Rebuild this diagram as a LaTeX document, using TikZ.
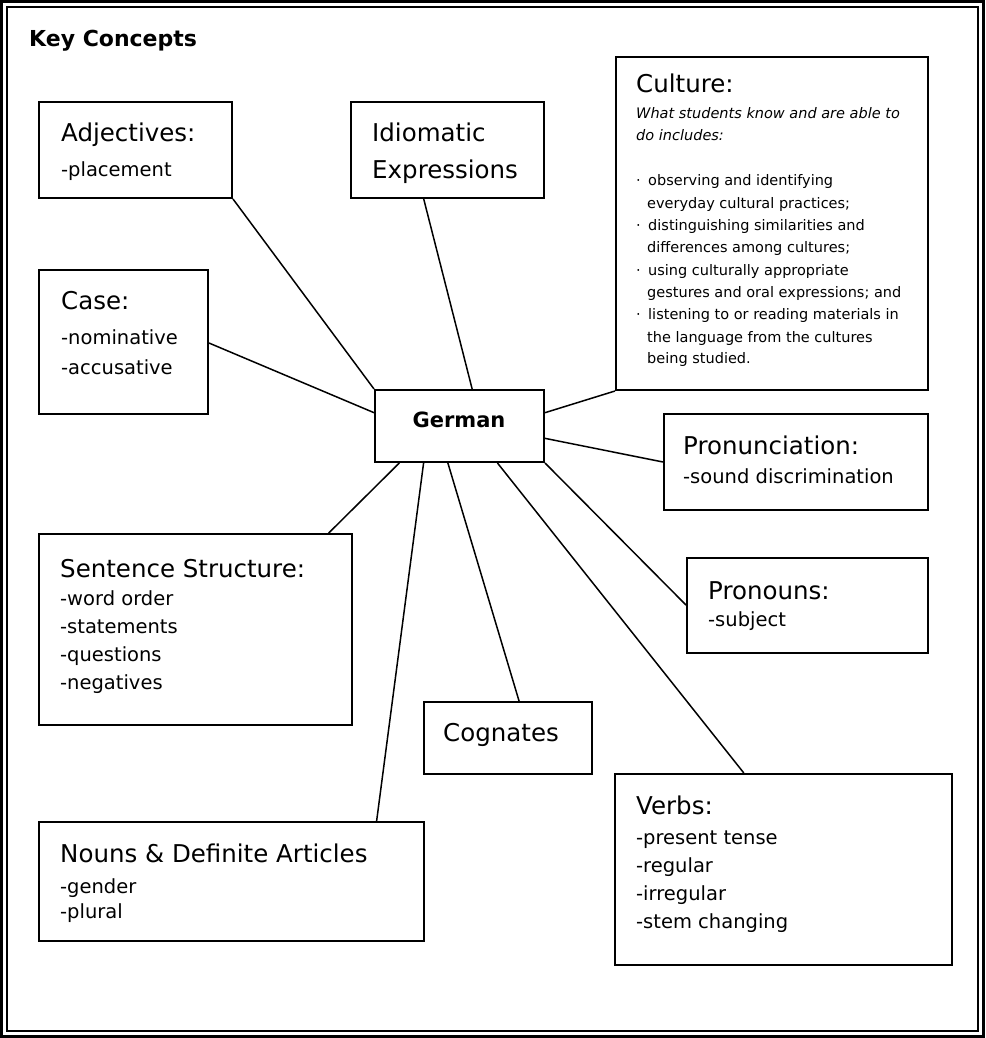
\documentclass[tikz,border=0pt]{standalone}
\usepackage{fontspec}
\setmainfont{DejaVu Sans}
\usetikzlibrary{calc}
\begin{document}
\begin{tikzpicture}[x=1pt,y=-1pt,
  box/.style={draw=black, line width=2pt, fill=white, inner sep=0pt, anchor=north west},
  conn/.style={draw=black, line width=1.5pt},
  ttl/.style={anchor=base west, inner sep=0pt, font=\fontsize{24.5}{29}\selectfont},
  itm/.style={anchor=base west, inner sep=0pt, font=\fontsize{19.5}{23}\selectfont},
  sml/.style={anchor=base west, inner sep=0pt, font=\fontsize{14.5}{17}\selectfont},
  smi/.style={sml, font=\fontsize{14.5}{17}\selectfont\itshape},
  bld/.style={inner sep=0pt, font=\fontsize{21}{25}\selectfont\bfseries},
]
\useasboundingbox (0,0) rectangle (985,1038);
% double frame
\draw[line width=3pt] (1.5,1.5) rectangle (983.5,1036.5);
\draw[line width=1.3pt] (7,7) rectangle (978,1031);

\node[bld, anchor=base west, font=\fontsize{22}{26}\selectfont\bfseries] (kc) at (29,47) {Key Concepts};

% boxes
\node[box, minimum width=193pt, minimum height=96pt] (adj) at (38,101) {};
\node[box, minimum width=193pt, minimum height=96pt] (idi) at (350,101) {};
\node[box, minimum width=312pt, minimum height=333pt] (cul) at (615,56) {};
\node[box, minimum width=169pt, minimum height=144pt] (cas) at (38,269) {};
\node[box, minimum width=169pt, minimum height=72pt] (ger) at (374,389) {};
\node[box, minimum width=264pt, minimum height=96pt] (pnc) at (663,413) {};
\node[box, minimum width=241pt, minimum height=95pt] (prn) at (686,557) {};
\node[box, minimum width=313pt, minimum height=191pt] (sen) at (38,533) {};
\node[box, minimum width=168pt, minimum height=72pt] (cog) at (423,701) {};
\node[box, minimum width=337pt, minimum height=191pt] (vrb) at (614,773) {};
\node[box, minimum width=385pt, minimum height=119pt] (nou) at (38,821) {};

% connectors
\draw[conn] (adj.south east) -- (ger.north west);
\draw[conn] ($(idi.south west)!0.378!(idi.south east)$) -- ($(ger.north west)!0.574!(ger.north east)$);
\draw[conn] ($(cas.north east)!0.507!(cas.south east)$) -- ($(ger.north west)!0.32!(ger.south west)$);
\draw[conn] ($(ger.north east)!0.32!(ger.south east)$) -- (cul.south west);
\draw[conn] ($(ger.north east)!0.667!(ger.south east)$) -- ($(pnc.north west)!0.5!(pnc.south west)$);
\draw[conn] (ger.south east) -- ($(prn.north west)!0.495!(prn.south west)$);
\draw[conn] ($(ger.south west)!0.148!(ger.south east)$) -- ($(sen.north west)!0.923!(sen.north east)$);
\draw[conn] ($(ger.south west)!0.29!(ger.south east)$) -- ($(nou.north west)!0.875!(nou.north east)$);
\draw[conn] ($(ger.south west)!0.432!(ger.south east)$) -- ($(cog.north west)!0.565!(cog.north east)$);
\draw[conn] ($(ger.south west)!0.722!(ger.south east)$) -- ($(vrb.north west)!0.383!(vrb.north east)$);

% texts
\node[bld, anchor=base] (gerT) at (459,427) {German};

\node[ttl] (adjT) at (61,141) {Adjectives:};
\node[itm] (adjA) at (61,176) {-placement};

\node[ttl] (idiT) at (372,141) {Idiomatic};
\node[ttl] (idiA) at (372,178) {Expressions};

\node[ttl] (casT) at (61,309) {Case:};
\node[itm] (casA) at (61,344) {-nominative};
\node[itm] (casB) at (61,374) {-accusative};

\node[ttl] (culT) at (636,93) {Culture:};
\node[smi] (culI1) at (636,118) {What students know and are able to};
\node[smi] (culI2) at (636,140) {do includes:};
\node[sml] (culD1) at (636,185) {·};
\node[sml] (culB1) at (648,185) {observing and identifying};
\node[sml] (culB1b) at (647,208) {everyday cultural practices;};
\node[sml] (culD2) at (636,230) {·};
\node[sml] (culB2) at (648,230) {distinguishing similarities and};
\node[sml] (culB2b) at (647,252) {differences among cultures;};
\node[sml] (culD3) at (636,275) {·};
\node[sml] (culB3) at (648,275) {using culturally appropriate};
\node[sml] (culB3b) at (647,297) {gestures and oral expressions; and};
\node[sml] (culD4) at (636,319) {·};
\node[sml] (culB4) at (648,319) {listening to or reading materials in};
\node[sml] (culB4b) at (647,342) {the language from the cultures};
\node[sml] (culB4c) at (647,363) {being studied.};

\node[ttl] (pncT) at (683,454) {Pronunciation:};
\node[itm] (pncA) at (683,483) {-sound discrimination};

\node[ttl] (prnT) at (708,599) {Pronouns:};
\node[itm] (prnA) at (708,626) {-subject};

\node[ttl] (senT) at (60,577) {Sentence Structure:};
\node[itm] (senA) at (60,605) {-word order};
\node[itm] (senB) at (60,633) {-statements};
\node[itm] (senC) at (60,661) {-questions};
\node[itm] (senD) at (60,689) {-negatives};

\node[ttl] (cogT) at (443,741) {Cognates};

\node[ttl] (vrbT) at (636,814) {Verbs:};
\node[itm] (vrbA) at (636,844) {-present tense};
\node[itm] (vrbB) at (636,872) {-regular};
\node[itm] (vrbC) at (636,900) {-irregular};
\node[itm] (vrbD) at (636,928) {-stem changing};

\node[ttl] (nouT) at (60,862) {Nouns \& Definite Articles};
\node[itm] (nouA) at (60,893) {-gender};
\node[itm] (nouB) at (60,918) {-plural};
\end{tikzpicture}
\end{document}
